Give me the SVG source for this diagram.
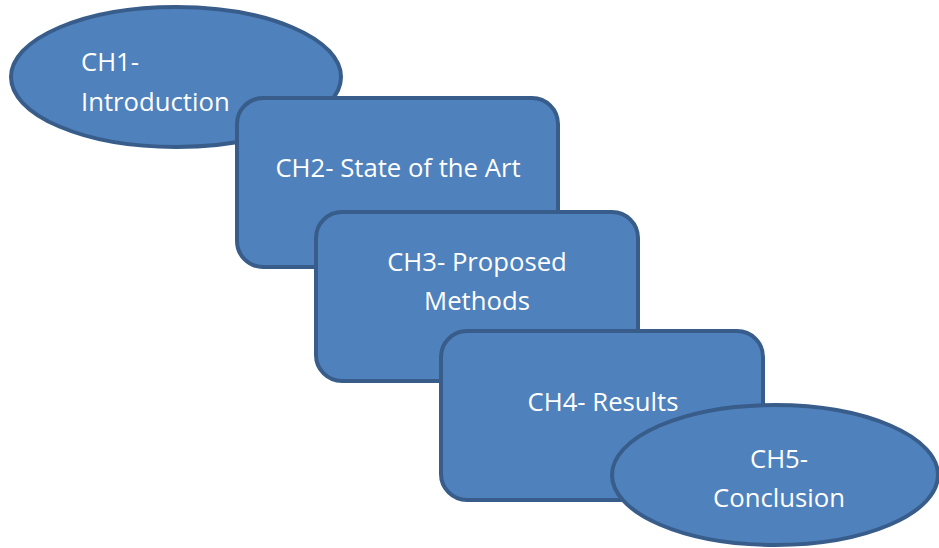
<svg xmlns="http://www.w3.org/2000/svg" width="939" height="548" viewBox="0 0 939 548">
<style>
.shape{fill:#4F81BD;stroke:#385D8A;stroke-width:4}
.t{font-family:"Open Sans","Liberation Sans",sans-serif;font-size:25.7px;fill:#FFFFFF}
.c{text-anchor:middle}
</style>
<rect width="939" height="548" fill="#FFFFFF"/>
<g id="ch1">
<ellipse class="shape" cx="176" cy="77" rx="165" ry="70"/>
<text class="t" x="81" y="71">CH1-</text>
<text class="t" x="81" y="111">Introduction</text>
</g>
<g id="ch2">
<rect class="shape" x="237" y="98" width="321" height="169" rx="26"/>
<text class="t c" x="398" y="177">CH2- State of the Art</text>
</g>
<g id="ch3">
<rect class="shape" x="316" y="212" width="322" height="169" rx="26"/>
<text class="t c" x="477" y="271">CH3- Proposed</text>
<text class="t c" x="477" y="310">Methods</text>
</g>
<g id="ch4">
<rect class="shape" x="441" y="331" width="322" height="169" rx="26"/>
<text class="t c" x="603" y="411">CH4- Results</text>
</g>
<g id="ch5">
<ellipse class="shape" cx="775" cy="475" rx="163" ry="70"/>
<text class="t c" x="779" y="468">CH5-</text>
<text class="t c" x="779" y="507">Conclusion</text>
</g>
<g id="connectors"></g>
</svg>
